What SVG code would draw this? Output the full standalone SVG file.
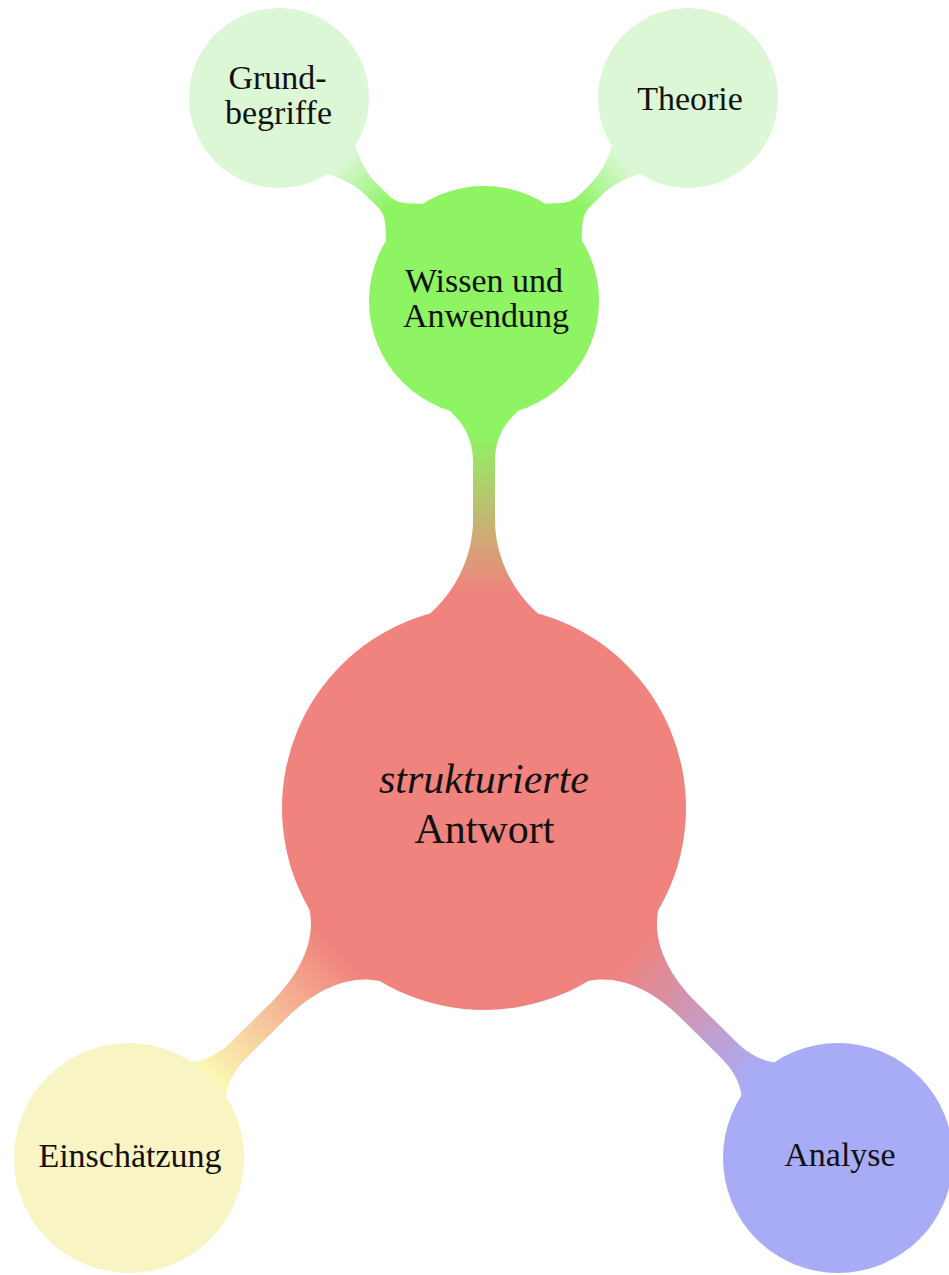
<svg xmlns="http://www.w3.org/2000/svg" width="949" height="1275" viewBox="0 0 949 1275">
<style>
text{font-family:"Liberation Serif","Times New Roman",serif;fill:#111;text-anchor:middle}
.s{font-size:34px}
.l{font-size:42px}
.it{font-style:italic}
</style>
<defs>
<linearGradient id="gMain" gradientUnits="userSpaceOnUse" x1="215" y1="0" x2="375" y2="0">
<stop offset="0" stop-color="#F0837D"/><stop offset="1" stop-color="#8EF464"/>
</linearGradient>
<linearGradient id="gSub" gradientUnits="userSpaceOnUse" x1="135" y1="0" x2="198" y2="0">
<stop offset="0" stop-color="#8EF464"/><stop offset="1" stop-color="#DCF7D6"/>
</linearGradient>
<linearGradient id="gYel" gradientUnits="userSpaceOnUse" x1="205" y1="0" x2="380" y2="0">
<stop offset="0" stop-color="#F0837D"/><stop offset="1" stop-color="#FBF6B0"/>
</linearGradient>
<linearGradient id="gBlu" gradientUnits="userSpaceOnUse" x1="205" y1="0" x2="380" y2="0">
<stop offset="0" stop-color="#F0837D"/><stop offset="1" stop-color="#A8ACF6"/>
</linearGradient>
<path id="barMain" d="M194.6,-54 C215,-30 250,-11 288,-11 L347,-11 C369,-11 384,-20 397.1,-34 L397.1,34 C384,20 369,11 347,11 L288,11 C250,11 215,30 194.6,54 Z"/>
<path id="barSub" d="M112,-26 C125,-14 130,-8 142,-8 L160,-8 C172,-8 185,-12 201,-20 L201,20 C185,12 172,8 160,8 L142,8 C130,8 125,14 112,26 Z"/>
<path id="barLow" d="M195.7,-50 C212,-25 245,-11 287,-11 L343,-11 C363,-11 376,-16 386,-24 L386,24 C376,16 363,11 343,11 L287,11 C245,11 212,25 195.7,50 Z"/>
</defs>
<g id="connectors">
<use href="#barMain" fill="url(#gMain)" transform="translate(484,808) rotate(-90)"/>
<use href="#barSub" fill="url(#gSub)" transform="translate(484,301) rotate(-135.3)"/>
<use href="#barSub" fill="url(#gSub)" transform="translate(484,301) rotate(-44.86)"/>
<use href="#barLow" fill="url(#gYel)" transform="translate(484,808) rotate(135.4)"/>
<use href="#barLow" fill="url(#gBlu)" transform="translate(484,808) rotate(44.67)"/>
</g>
<g id="node-center">
<circle cx="484" cy="808" r="202" fill="#F0837D"/>
<text class="l it" x="484" y="793">strukturierte</text>
<text class="l" x="484.5" y="843">Antwort</text>
</g>
<g id="node-wissen">
<circle cx="484" cy="301" r="115" fill="#8EF464"/>
<text class="s" x="484" y="292">Wissen und</text>
<text class="s" x="486" y="327">Anwendung</text>
</g>
<g id="node-grund">
<circle cx="279" cy="98" r="90" fill="#DCF7D6"/>
<text class="s" x="277.5" y="89">Grund-</text>
<text class="s" x="278.5" y="124">begriffe</text>
</g>
<g id="node-theorie">
<circle cx="688" cy="98" r="90" fill="#DCF7D6"/>
<text class="s" x="690" y="110">Theorie</text>
</g>
<g id="node-einschaetzung">
<circle cx="129" cy="1158" r="115" fill="#F9F4C3"/>
<text class="s" x="130" y="1167">Einschätzung</text>
</g>
<g id="node-analyse">
<circle cx="838" cy="1158" r="115" fill="#A8ACF6"/>
<text class="s" x="840" y="1166">Analyse</text>
</g>
</svg>
